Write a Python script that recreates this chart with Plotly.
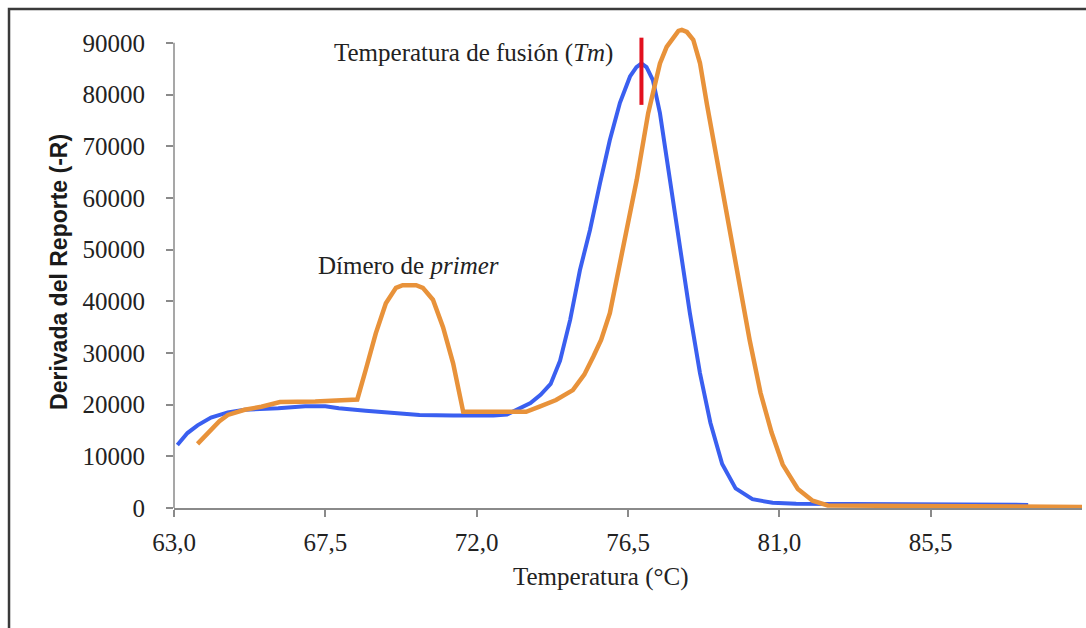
import plotly.graph_objects as go

# Melting-curve derivative data: temperature (°C) vs -dR/dT
blue_t = [63.1, 63.4, 63.7, 64.1, 64.6, 65.1, 66.1, 66.9, 67.5, 67.9, 68.7, 69.8, 70.3,
          71.3, 72.5, 72.9, 73.3, 73.6, 73.9, 74.2, 74.48, 74.78, 75.07, 75.37, 75.67,
          75.96, 76.26, 76.56, 76.75, 76.9, 77.05, 77.24, 77.45, 77.75, 78.05, 78.34,
          78.64, 78.95, 79.3, 79.7, 80.2, 80.8, 81.5, 88.4]
blue_v = [12200, 14500, 16000, 17500, 18500, 19000, 19300, 19700, 19700, 19300, 18800,
          18300, 18000, 17900, 17900, 18100, 19300, 20300, 21900, 24000, 28500, 36400,
          46000, 53800, 62900, 71200, 78400, 83500, 85300, 86000, 85300, 82800, 76400,
          63500, 50600, 37700, 26100, 16500, 8500, 3800, 1700, 1000, 800, 600]

orange_t = [63.7, 64.07, 64.35, 64.6, 65.1, 65.6, 66.15, 67.2, 68.2, 68.45, 68.7, 69.0,
            69.3, 69.6, 69.8, 70.0, 70.2, 70.4, 70.7, 71.0, 71.3, 71.6, 73.47, 73.87,
            74.36, 74.86, 75.2, 75.47, 75.7, 75.96, 76.36, 76.76, 77.1, 77.45, 77.65,
            77.85, 78.0, 78.1, 78.25, 78.44, 78.64, 78.85, 79.15, 79.47, 79.8, 80.12,
            80.44, 80.77, 81.1, 81.55, 81.99, 82.44, 90.0]
orange_v = [12400, 14800, 16800, 18000, 19000, 19600, 20500, 20600, 20900, 21000, 26700,
            33800, 39600, 42600, 43100, 43200, 43100, 42600, 40300, 35000, 28000, 18600,
            18600, 19600, 20900, 22800, 25800, 29300, 32500, 37700, 50600, 63500, 76400,
            86000, 89200, 91200, 92300, 92500, 92100, 90600, 86100, 78000, 67300, 55700,
            44000, 32400, 22300, 14600, 8400, 3700, 1400, 500, 200]

# Melting temperature marker
tm_t = [76.9, 76.9]
tm_v = [78000, 91000]

x_tickvals = [63.0, 67.5, 72.0, 76.5, 81.0, 85.5]
x_ticktext = ["63,0", "67,5", "72,0", "76,5", "81,0", "85,5"]
y_tickvals = [0, 10000, 20000, 30000, 40000, 50000, 60000, 70000, 80000, 90000]
y_ticktext = ["0", "10000", "20000", "30000", "40000", "50000", "60000", "70000",
              "80000", "90000"]

SERIF = "Liberation Serif, Times New Roman, serif"
SANS = "Liberation Sans, Arial, sans-serif"
AXIS_GREY = "#8a8a8a"
TEXT = "#222222"

fig = go.Figure()
fig.add_trace(go.Scatter(x=blue_t, y=blue_v, mode="lines",
                         line=dict(color="#3a5ff0", width=4), showlegend=False))
fig.add_trace(go.Scatter(x=orange_t, y=orange_v, mode="lines",
                         line=dict(color="#e8923a", width=4.5), showlegend=False))
fig.add_trace(go.Scatter(x=tm_t, y=tm_v, mode="lines",
                         line=dict(color="#e2101e", width=4), showlegend=False))

fig.update_layout(
    width=1086, height=628,
    margin=dict(l=174, r=4, t=17, b=120),
    paper_bgcolor="white", plot_bgcolor="white",
    showlegend=False,
    font=dict(family=SERIF, color=TEXT, size=25),
    xaxis=dict(range=[63, 90], tickvals=x_tickvals, ticktext=x_ticktext,
               showgrid=False, zeroline=False, showline=True, linecolor=AXIS_GREY,
               linewidth=1.5, ticks="outside", ticklen=7, tickcolor=AXIS_GREY,
               tickwidth=1.5, ticklabelstandoff=4,
               tickfont=dict(family=SERIF, size=25, color=TEXT)),
    yaxis=dict(range=[0, 95000], tickvals=y_tickvals, ticktext=y_ticktext,
               showgrid=False, zeroline=False, showline=False,
               ticks="outside", ticklen=7, tickcolor=AXIS_GREY, tickwidth=1.5,
               ticklabelstandoff=16,
               tickfont=dict(family=SERIF, size=25, color=TEXT)),
)

# y axis line stops at the top tick
fig.add_shape(type="line", xref="x domain", yref="y", x0=0, x1=0, y0=0, y1=90000,
              line=dict(color=AXIS_GREY, width=1.5), layer="below")

# Outer chart frame
fig.add_shape(type="rect", xref="paper", yref="paper",
              x0=-0.1817, x1=1.02, y0=-0.26, y1=1.0163,
              line=dict(color="#3a3a3a", width=2.5), fillcolor="rgba(0,0,0,0)")

fig.add_annotation(text="Derivada del Reporte (-R)", xref="paper", yref="paper",
                   x=-0.1267, y=0.4807, textangle=-90, showarrow=False,
                   font=dict(family=SANS, size=23, color="#1a1a1a", weight="bold"),
                   xanchor="center", yanchor="middle")
fig.add_annotation(text="Temperatura (°C)", xref="paper", yref="paper",
                   x=0.470, y=-0.1405, showarrow=False,
                   font=dict(family=SERIF, size=25, color=TEXT),
                   xanchor="center", yanchor="middle")
fig.add_annotation(text="Temperatura de fusión (<i>Tm</i>)", xref="x", yref="y",
                   x=76.12, y=88000, showarrow=False, xanchor="right", yanchor="middle",
                   font=dict(family=SERIF, size=25, color=TEXT))
fig.add_annotation(text="Dímero de <i>primer</i>", xref="x", yref="y",
                   x=69.96, y=47000, showarrow=False, xanchor="center", yanchor="middle",
                   font=dict(family=SERIF, size=25, color=TEXT))

fig.write_html("out.html")
